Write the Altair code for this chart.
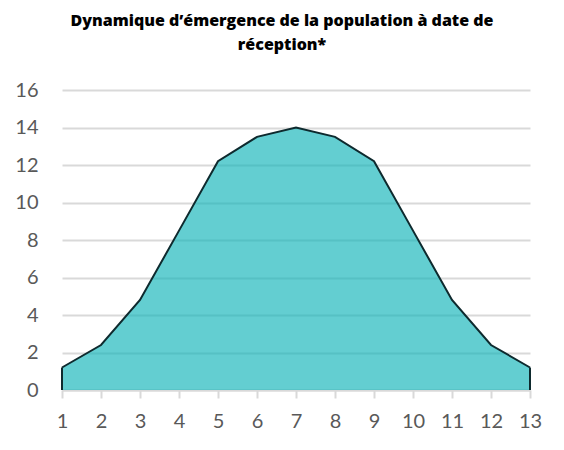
import altair as alt
import pandas as pd

days = [1, 2, 3, 4, 5, 6, 7, 8, 9, 10, 11, 12, 13]
values = [1.2, 2.4, 4.8, 8.5, 12.2, 13.5, 14.0, 13.5, 12.2, 8.5, 4.8, 2.4, 1.2]
yticks = [0, 2, 4, 6, 8, 10, 12, 14, 16]

df = pd.DataFrame({"jour": days, "valeur": values})
edges = df.iloc[[0, -1]].copy()

xscale = alt.Scale(domain=[1, 13], nice=False, zero=False)
yscale = alt.Scale(domain=[0, 16], nice=False)

xaxis = alt.Axis(values=days, title=None, grid=False, domainColor="#d9d9d9", domainWidth=2,
                 tickColor="#d9d9d9", tickWidth=2, tickSize=8, labelFontSize=20,
                 labelColor="#595959", labelFont="Lato", labelPadding=13, format="d",
                 labelOverlap=False, labelFlush=False)
yaxis = alt.Axis(values=yticks, title=None, domain=False, ticks=False,
                 gridColor="#d9d9d9", gridWidth=2, labelFontSize=20, labelColor="#595959",
                 labelFont="Lato", labelPadding=24, labelOverlap=False, labelFlush=False)

X = alt.X("jour:Q", scale=xscale, axis=xaxis)
Y = alt.Y("valeur:Q", scale=yscale, axis=yaxis)

area = alt.Chart(df).mark_area(color="#0FB3B8", opacity=0.65).encode(x=X, y=Y)
line = alt.Chart(df).mark_line(color="#0E2A2E", strokeWidth=2).encode(x=X, y=Y)
rules = alt.Chart(edges).transform_calculate(base="0").mark_rule(
    color="#0E2A2E", strokeWidth=2
).encode(x=X, y=Y, y2=alt.Y2("base:Q"))

chart = alt.layer(area, line, rules).properties(
    width=468,
    height=300,
    title=alt.TitleParams(
        text=["Dynamique d\u2019\u00e9mergence de la population \u00e0 date de", "r\u00e9ception*"],
        font="Open Sans", fontSize=16, fontWeight=800, color="#000000",
        anchor="middle", dx=-14, offset=27, lineHeight=24,
    ),
    autosize=alt.AutoSizeParams(type="none"),
    padding={"left": 54, "top": 82, "right": 26, "bottom": 52},
).configure_view(stroke=None)

chart.save("out.html", embed_options={"renderer": "svg", "actions": False})
